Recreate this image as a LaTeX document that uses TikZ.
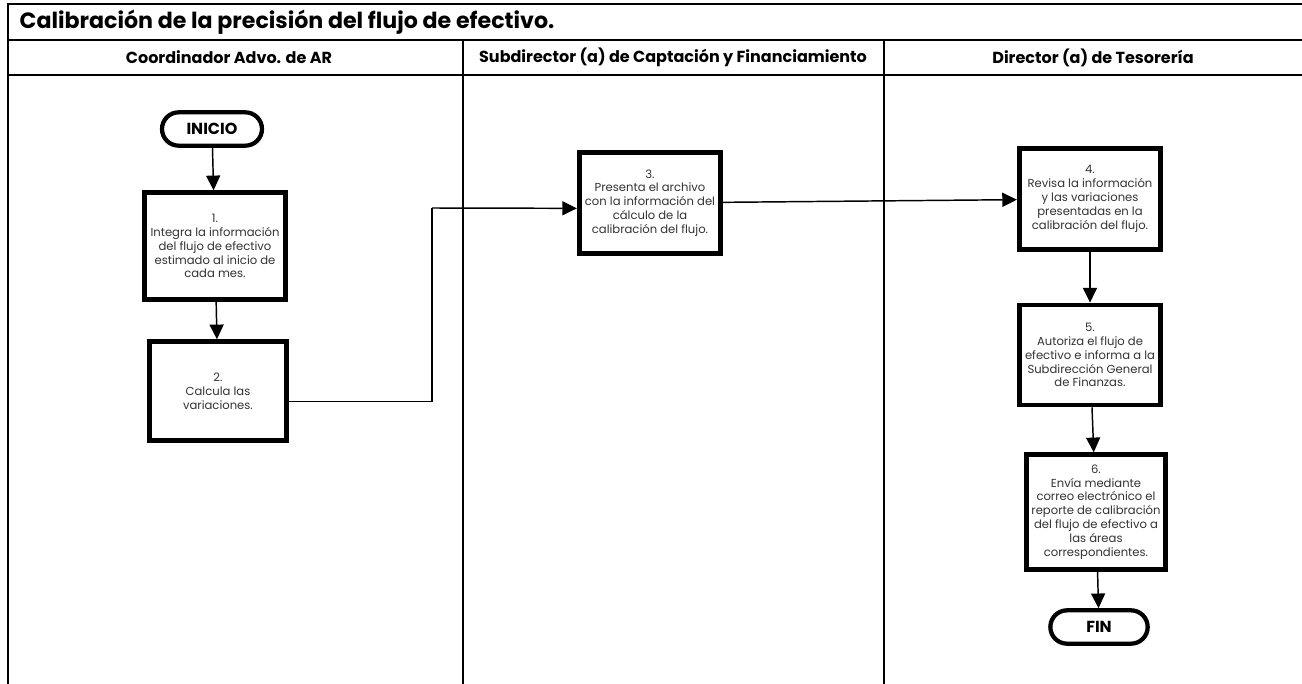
\documentclass[tikz,border=0pt]{standalone}
\usepackage{fontspec}
\setmainfont{Poppins}
\usepackage{tikz}
\usetikzlibrary{arrows.meta,positioning}

\tikzset{
  lane/.style={line width=1.5pt},
  proc/.style={draw, line width=3.6pt, fill=white, align=center, text=black!80,
    font=\fontsize{8.7}{10.4}\selectfont, minimum width=106pt, inner sep=1pt},
  term/.style={draw, line width=3.2pt, rounded corners=12.5pt, minimum width=75pt,
    minimum height=25pt, font=\fontsize{12}{13}\selectfont\bfseries},
  head/.style={font=\fontsize{12}{14}\selectfont\bfseries},
  flow/.style={line width=1.1pt, -{Triangle[length=11pt,width=10.5pt]}},
  link/.style={line width=1.1pt}
}

\begin{document}
\begin{tikzpicture}[x=0.75pt, y=-0.75pt]
  \useasboundingbox (0,0) rectangle (1302,684);

  % Frame and swimlanes
  \draw[lane] (1302,4) -- (8,4) -- (8,684);
  \draw[lane] (8,40) -- (1302,40);
  \draw[lane] (8,75) -- (1302,75);
  \draw[lane] (463,40) -- (463,684);
  \draw[lane] (884,40) -- (884,684);

  \node[anchor=west, font=\fontsize{16.6}{18}\selectfont\bfseries] (title) at (15,22)
    {Calibración de la precisión del flujo de efectivo.};
  \node[head] (h1) at (229,57.5) {Coordinador Advo. de AR};
  \node[head] (h2) at (673,57.5) {Subdirector (a) de Captación y Financiamiento};
  \node[head] (h3) at (1093,57.5) {Director (a) de Tesorería};

  % Coordinador
  \node[term] (inicio) at (212,129) {INICIO};
  \node[proc, minimum height=80pt] (b1) at (215,246)
    {1.\\Integra la información\\del flujo de efectivo\\estimado al inicio de\\cada mes.};
  \node[proc, minimum height=74pt, minimum width=103pt] (b2) at (218,391)
    {2.\\Calcula las\\variaciones.};

  % Subdirector
  \node[proc, minimum height=76pt] (b3) at (650,203)
    {3.\\Presenta el archivo\\con la información del\\cálculo de la\\calibración del flujo.};

  % Director
  \node[proc, minimum height=76pt] (b4) at (1090,199)
    {4.\\Revisa la información\\y las variaciones\\presentadas en la\\calibración del flujo.};
  \node[proc, minimum height=75pt] (b5) at (1090,355)
    {5.\\Autoriza el flujo de\\efectivo e informa a la\\Subdirección General\\de Finanzas.};
  \node[proc, minimum height=86pt, minimum width=104pt] (b6) at (1096,512)
    {6.\\Envía mediante\\correo electrónico el\\reporte de calibración\\del flujo de efectivo a\\las áreas\\correspondientes.};
  \node[term, minimum width=73pt] (fin) at (1099,627) {FIN};

  % Connectors
  \coordinate (m23) at (432,208);
  \draw[flow] (inicio) -- (b1);
  \draw[flow] (b1) -- (b2);
  \draw[link] ([yshift=-8pt]b2.east) -| (m23);
  \draw[flow] (m23) -- ([yshift=-4pt]b3.west);
  \draw[flow] (b3) -- (b4);
  \draw[flow] (b4) -- (b5);
  \draw[flow] (b5) -- (b6);
  \draw[flow] (b6) -- (fin);
\end{tikzpicture}
\end{document}
